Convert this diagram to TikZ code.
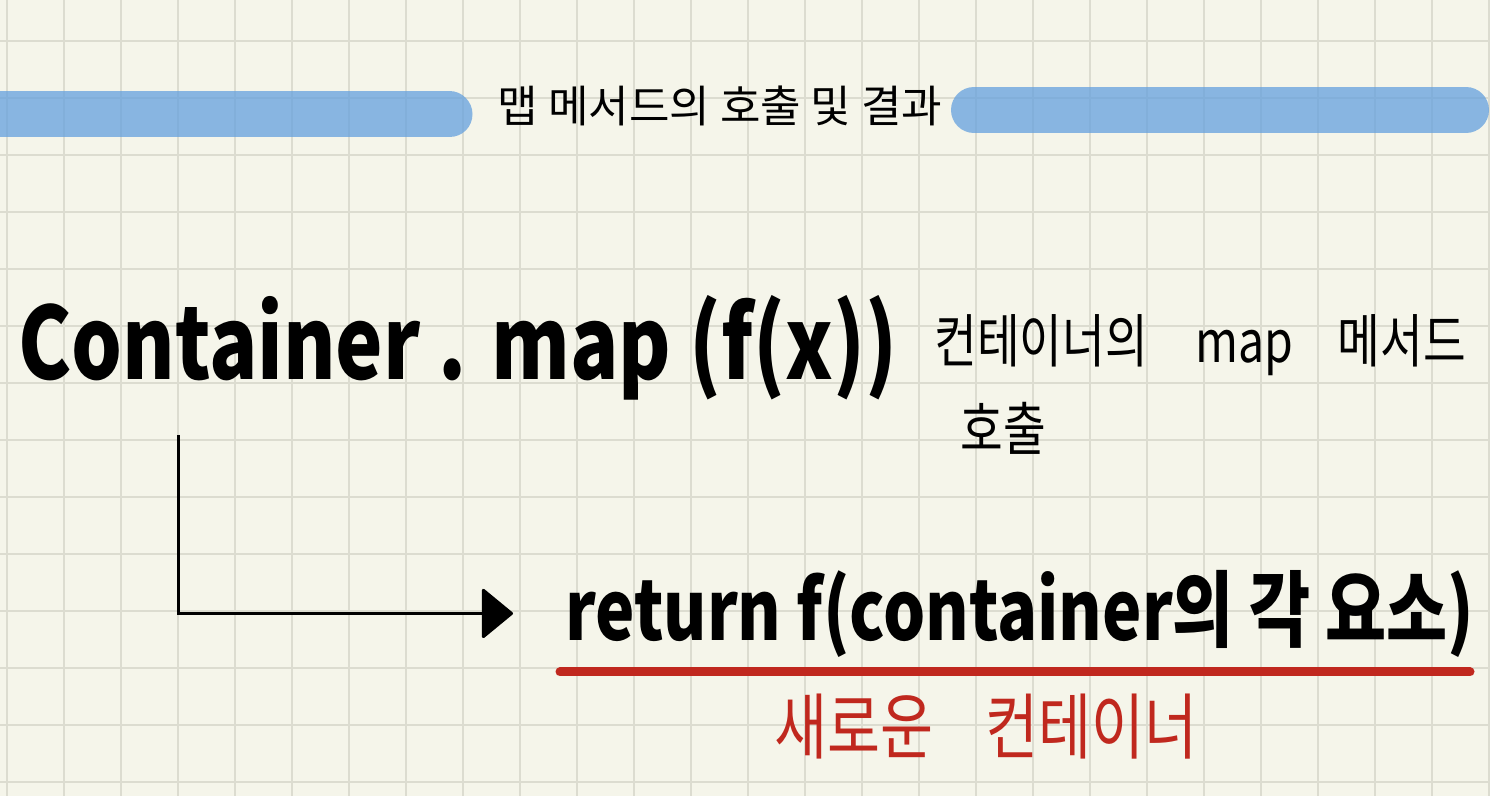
\documentclass[tikz,border=0pt]{standalone}
\usepackage{fontspec}
\newfontfamily\krfont{Noto Sans CJK KR}
\newfontfamily\penfont[FakeStretch=0.8]{Noto Sans CJK KR}
\definecolor{PaperCream}{HTML}{F5F5EA}
\definecolor{PaperGrid}{HTML}{DCDCD0}
\definecolor{BarBlue}{HTML}{64A0DE}
\definecolor{PenRed}{HTML}{C0281E}
\usetikzlibrary{arrows.meta,positioning,calc}

\begin{document}
\begin{tikzpicture}[
    x=0.5pt, y=-0.5pt,
    node distance=10pt and 14pt,
    gridline/.style={draw=PaperGrid, line width=1pt},
    bar/.style={draw=BarBlue, draw opacity=0.75, line width=23pt, line cap=round},
    title/.style={font=\krfont\fontsize{22}{26}\selectfont, inner sep=0pt},
    pen/.style={font=\penfont\bfseries\fontsize{50}{60}\selectfont, inner sep=0pt, anchor=base west},
    penret/.style={font=\penfont\bfseries\fontsize{41.5}{48}\selectfont, inner sep=0pt, anchor=base west},
    note/.style={font=\penfont\fontsize{29}{44}\selectfont, inner sep=0pt, anchor=north west, align=left},
    rednote/.style={font=\penfont\fontsize{36}{42}\selectfont, text=PenRed, inner sep=0pt},
    arr/.style={-{Triangle[length=16pt, width=26pt, round]}, line width=1.5pt, black},
    underline/.style={draw=PenRed, line width=4.5pt, line cap=round}
  ]
    % paper
    \fill[PaperCream] (0,0) rectangle (1490,796);
    \useasboundingbox (0,0) rectangle (1490,796);
    \foreach \gx in {0,...,26}
      \draw[gridline] (6.7+57*\gx,0) -- ++(0,796);
    \foreach \gy in {0,...,13}
      \draw[gridline] (0,41+57*\gy) -- ++(1490,0);

    % title
    \draw[bar] (-30,114.5) -- (449.5,114.5);
    \draw[bar] (974,110) -- (1466,110);
    \node[title] (title) at (720,106) {맵 메서드의 호출 및 결과};

    \node[pen] (call) at (18,380) {Container . map (f(x))};
    \node[note] (note) at (934,314) {컨테이너의\hspace{24pt}map\hspace{22pt}메서드\\\hspace{13pt}호출};
    \node[penret] (ret) at (565,640) {return f(container의 각 요소)};

    \coordinate (from) at (178,435);
    \draw[arr, shorten >=26pt] (from) |- (ret.west);

    \coordinate (ulA) at (560,672);
    \coordinate (ulB) at (1470,672);
    \draw[underline] (ulA) -- (ulB);
    \node[rednote, anchor=north] (newc) at (986,694) {새로운\hspace{26pt}컨테이너};
  \end{tikzpicture}
\end{document}
